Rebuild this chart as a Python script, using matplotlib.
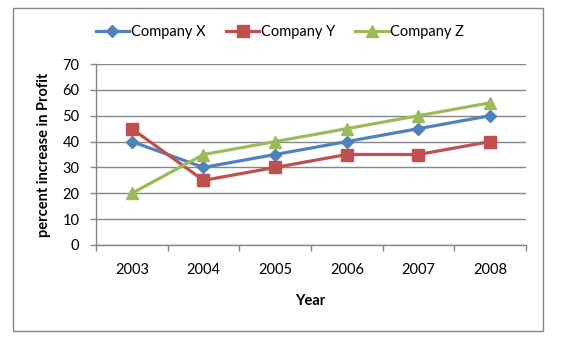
import matplotlib
matplotlib.use("Agg")
import matplotlib.pyplot as plt
from matplotlib.patches import Rectangle
from matplotlib.ticker import FixedLocator, MultipleLocator

years = ["2003", "2004", "2005", "2006", "2007", "2008"]
company_x = [40, 30, 35, 40, 45, 50]
company_y = [45, 25, 30, 35, 35, 40]
company_z = [20, 35, 40, 45, 50, 55]
series_names = ["Company X", "Company Y", "Company Z"]

plt.rcParams['font.family'] = ['Lato', 'DejaVu Sans']

W, H = 564, 344
fig = plt.figure(figsize=(W / 100, H / 100), dpi=100)
fig.patch.set_facecolor('white')

# outer chart border
fig.add_artist(Rectangle((13 / W, 1 - 331 / H), 530 / W, 323 / H,
                         transform=fig.transFigure, fill=False,
                         edgecolor='#868686', linewidth=1.0))

ax = fig.add_axes([96 / W, 1 - 245 / H, (526 - 96) / W, (245 - 64) / H])
xs = list(range(len(years)))

gray = '#868686'
ax.plot(xs, company_x, color='#4F81BD', lw=2.3, marker='D', ms=6.5,
        label=series_names[0], zorder=3)
ax.plot(xs, company_y, color='#C0504D', lw=2.3, marker='s', ms=8,
        label=series_names[1], zorder=3)
ax.plot(xs, company_z, color='#9BBB59', lw=2.3, marker='^', ms=8.5,
        label=series_names[2], zorder=3)

ax.set_xlim(-0.5, len(years) - 0.5)
ax.set_ylim(0, 70)
ax.yaxis.set_major_locator(MultipleLocator(10))
ax.grid(axis='y', color=gray, linewidth=1.0)
ax.set_axisbelow(True)

fs = 10.5
ax.set_xticks(xs)
ax.set_xticklabels(years)
ax.xaxis.set_minor_locator(FixedLocator([i - 0.5 for i in range(len(years) + 1)]))
ax.tick_params(axis='x', which='major', length=0, pad=13, labelsize=fs)
ax.tick_params(axis='x', which='minor', length=4, color=gray, width=1)
ax.tick_params(axis='y', which='major', length=4, color=gray, width=1,
               pad=8, labelsize=fs)

for s in ['top', 'right']:
    ax.spines[s].set_visible(False)
for s in ['left', 'bottom']:
    ax.spines[s].set_color(gray)
    ax.spines[s].set_linewidth(1.0)

fig.text(44 / W, 1 - 155 / H, 'percent increase in Profit', rotation=90,
         ha='center', va='center', fontsize=fs, fontweight='bold')
fig.text(310 / W, 1 - 301 / H, 'Year', ha='center', va='center',
         fontsize=fs, fontweight='bold')

fig.legend(loc='center', bbox_to_anchor=(280 / W, 1 - 32 / H), ncol=3,
           frameon=False, fontsize=fs, handlelength=2.3, handletextpad=0.1,
           columnspacing=1.4)

fig.savefig('out.png', dpi=100)
